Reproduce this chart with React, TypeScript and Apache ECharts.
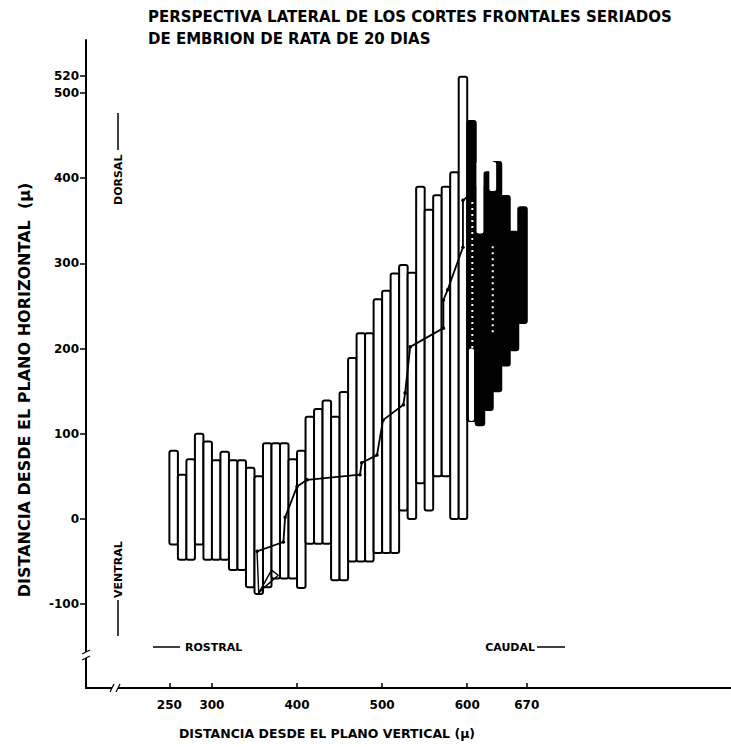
import { useEffect, useRef } from "react";
import * as echarts from "echarts";

// Each section: starts at binStart (μ), spans 10 μ
const binStarts = [250, 260, 270, 280, 290, 300, 310, 320, 330, 340, 350, 360, 370, 380, 390, 400, 410, 420, 430, 440, 450, 460, 470, 480, 490, 500, 510, 520, 530, 540, 550, 560, 570, 580, 590, 600, 610, 620, 630, 640, 650, 660];
const lows = [-30, -48, -48, -30, -48, -48, -48, -60, -60, -80, -88, -80, -70, -70, -70, -81, -29, -29, -29, -72, -72, -50, -50, -50, -40, -40, -40, 10, 0, 42, 10, 50, 50, 0, 0, 115, 110, 128, 150, 180, 198, 230];
const highs = [80, 52, 70, 100, 91, 69, 79, 69, 69, 60, 50, 89, 89, 89, 70, 80, 120, 129, 139, 120, 149, 189, 218, 218, 258, 268, 288, 298, 289, 390, 363, 380, 390, 407, 519, 467, 390, 407, 419, 379, 337, 366];
const darkFrom = 600;

// white sections visible inside the dense caudal block: [x0, x1, low, high]
const innerWhite = [
  [602, 608, 115, 200],
  [611, 619, 335, 420],
  [626, 634, 385, 419],
];

// centre line through the sections
const curveX = [353, 384, 386, 400, 412, 474, 476, 494, 501, 525, 527, 533, 572, 572, 577, 595, 595, 607];
const curveY = [-38, -27, 2, 38, 46, 52, 66, 75, 116, 134, 148, 202, 224, 257, 269, 319, 374, 384];
const loopX = [353, 355, 370, 378, 362, 355];
const loopY = [-38, -87, -60, -66, -80, -87];
// centre line continuing (white dots) inside the dense block
const dotsAX = [606, 606];
const dotsAY = [372, 130];
const dotsBX = [630, 630];
const dotsBY = [320, 215];

const yTicks = [-100, 0, 100, 200, 300, 400, 500, 520];
const xTicks = [250, 300, 400, 500, 600, 670];

const FONT = "DejaVu Sans";

export default function App() {
  const ref = useRef<HTMLDivElement>(null);
  useEffect(() => {
    const chart = echarts.init(ref.current!, null, { renderer: "svg" });
    const barData = binStarts.map((s, i) => [s, s + 10, lows[i], highs[i], s >= darkFrom ? 1 : 0]);
    const whiteData = innerWhite.map((d) => [d[0], d[1], d[2], d[3], 0]);
    const renderRect = (fillOverride?: string) => (params: any, api: any) => {
      const x0 = api.value(0), x1 = api.value(1), lo = api.value(2), hi = api.value(3), dark = api.value(4);
      const p0 = api.coord([x0, hi]);
      const p1 = api.coord([x1, lo]);
      return {
        type: "rect",
        shape: { x: p0[0], y: p0[1], width: p1[0] - p0[0], height: p1[1] - p0[1], r: 2 },
        style: { fill: fillOverride ?? (dark ? "#000" : "#fff"), stroke: "#000", lineWidth: fillOverride ? 0 : 2 },
      };
    };
    const whiteDots = (xs: number[], ys: number[]) => ({
      type: "line",
      data: xs.map((x, i) => [x, ys[i]]),
      symbol: "none",
      lineStyle: { color: "#fff", width: 2, type: [2, 4] },
      z: 5,
    });
    const textStyle = { fontFamily: FONT, fontWeight: "bold" as const, color: "#000" };
    chart.setOption({
      animation: false,
      backgroundColor: "#fff",
      grid: { left: 86, top: 40, width: 645, height: 648, containLabel: false },
      xAxis: {
        type: "value",
        min: 152,
        max: 910,
        axisLine: { show: true, onZero: false, lineStyle: { color: "#000", width: 2 } },
        axisTick: { show: true, inside: true, length: 5, lineStyle: { color: "#000", width: 1.5 }, customValues: xTicks },
        axisLabel: { ...textStyle, fontSize: 12, margin: 11, customValues: xTicks, formatter: (v: number) => String(v) },
        splitLine: { show: false },
      },
      yAxis: {
        type: "value",
        min: -198.4,
        max: 562.2,
        axisLine: { show: true, onZero: false, lineStyle: { color: "#000", width: 2 } },
        axisTick: { show: true, inside: false, length: 6, lineStyle: { color: "#000", width: 1.5 }, customValues: yTicks },
        axisLabel: { ...textStyle, fontSize: 12, margin: 7, customValues: yTicks, formatter: (v: number) => String(v) },
        splitLine: { show: false },
      },
      series: [
        {
          type: "custom",
          renderItem: renderRect(),
          encode: { x: [0, 1], y: [2, 3] },
          data: barData,
          z: 2,
        },
        {
          type: "custom",
          renderItem: renderRect("#fff"),
          encode: { x: [0, 1], y: [2, 3] },
          data: whiteData,
          z: 3,
        },
        {
          type: "line",
          data: curveX.map((x, i) => [x, curveY[i]]),
          symbol: "circle",
          symbolSize: 3.5,
          itemStyle: { color: "#000" },
          lineStyle: { color: "#000", width: 1.8 },
          z: 4,
        },
        {
          type: "line",
          data: loopX.map((x, i) => [x, loopY[i]]),
          symbol: "none",
          lineStyle: { color: "#000", width: 1.4 },
          z: 4,
        },
        whiteDots(dotsAX, dotsAY),
        whiteDots(dotsBX, dotsBY),
      ],
      graphic: [
        { type: "text", left: 148, top: 9, style: { text: "PERSPECTIVA LATERAL DE LOS CORTES FRONTALES SERIADOS", font: `bold 15px "${FONT}"`, fill: "#000" } },
        { type: "text", left: 148, top: 31, style: { text: "DE EMBRION DE RATA DE 20 DIAS", font: `bold 15px "${FONT}"`, fill: "#000" } },
        // axis names
        { type: "text", x: 24, y: 390, rotation: Math.PI / 2, style: { text: "DISTANCIA DESDE EL PLANO HORIZONTAL  (μ)", font: `bold 16px "${FONT}"`, fill: "#000", align: "center", verticalAlign: "middle" } },
        { type: "text", x: 327, y: 733, style: { text: "DISTANCIA DESDE EL PLANO VERTICAL (μ)", font: `bold 12.5px "${FONT}"`, fill: "#000", align: "center", verticalAlign: "middle" } },
        // DORSAL
        { type: "line", shape: { x1: 118, y1: 113, x2: 118, y2: 150 }, style: { stroke: "#000", lineWidth: 1.5 } },
        { type: "text", x: 118, y: 205, rotation: Math.PI / 2, style: { text: "DORSAL", font: `bold 11px "${FONT}"`, fill: "#000", verticalAlign: "middle", align: "left" } },
        // VENTRAL
        { type: "text", x: 118, y: 598, rotation: Math.PI / 2, style: { text: "VENTRAL", font: `bold 11px "${FONT}"`, fill: "#000", verticalAlign: "middle", align: "left" } },
        { type: "line", shape: { x1: 118, y1: 600, x2: 118, y2: 636 }, style: { stroke: "#000", lineWidth: 1.5 } },
        // ROSTRAL / CAUDAL
        { type: "line", shape: { x1: 153, y1: 647, x2: 180, y2: 647 }, style: { stroke: "#000", lineWidth: 1.5 } },
        { type: "text", x: 185, y: 647, style: { text: "ROSTRAL", font: `bold 11px "${FONT}"`, fill: "#000", verticalAlign: "middle" } },
        { type: "text", x: 535, y: 647, style: { text: "CAUDAL", font: `bold 11px "${FONT}"`, fill: "#000", verticalAlign: "middle", align: "right" } },
        { type: "line", shape: { x1: 537, y1: 647, x2: 565, y2: 647 }, style: { stroke: "#000", lineWidth: 1.5 } },
        // y axis break
        { type: "rect", shape: { x: 82, y: 652, width: 8, height: 6 }, style: { fill: "#fff" }, z: 10 },
        { type: "line", shape: { x1: 82, y1: 654, x2: 90, y2: 650 }, style: { stroke: "#000", lineWidth: 1.2 }, z: 11 },
        { type: "line", shape: { x1: 82, y1: 660, x2: 90, y2: 656 }, style: { stroke: "#000", lineWidth: 1.2 }, z: 11 },
        // x axis break
        { type: "rect", shape: { x: 112, y: 684, width: 6, height: 8 }, style: { fill: "#fff" }, z: 10 },
        { type: "line", shape: { x1: 110, y1: 692, x2: 114, y2: 684 }, style: { stroke: "#000", lineWidth: 1.2 }, z: 11 },
        { type: "line", shape: { x1: 116, y1: 692, x2: 120, y2: 684 }, style: { stroke: "#000", lineWidth: 1.2 }, z: 11 },
      ],
    });
    return () => chart.dispose();
  }, []);
  return <div ref={ref} style={{ position: "fixed", left: 0, top: 0, width: 731, height: 747 }} />;
}
